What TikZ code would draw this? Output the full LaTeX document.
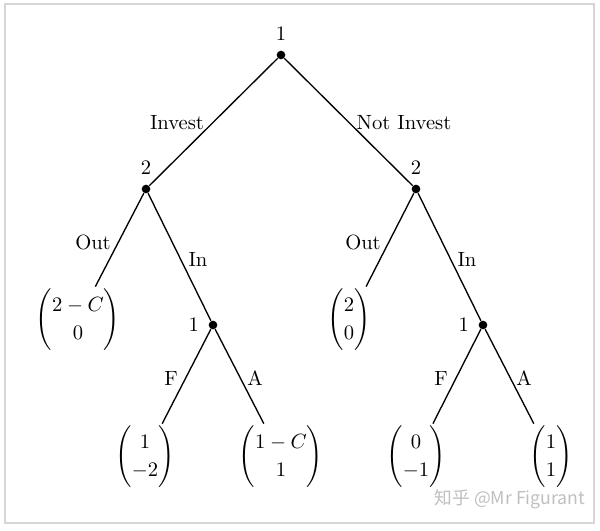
\documentclass[tikz,border=0pt]{standalone}
\usepackage{amsmath}
\usepackage{fontspec}
\newfontfamily\cjkwm{Noto Sans CJK SC}
\newcommand{\payoff}[2]{{\renewcommand{\arraystretch}{1.15}$\begin{pmatrix}#1\\#2\end{pmatrix}$}}
\begin{document}
\begin{tikzpicture}[x=0.4854pt,y=-0.4854pt,
  dotnode/.style={circle,fill=black,inner sep=0pt,minimum size=4.2pt},
  leafnode/.style={inner sep=1pt},
  edgelbl/.style={inner sep=0pt},
  branch/.style={line width=0.65pt}]
\useasboundingbox (0,0) rectangle (600,530);
\draw[black!16,line width=1.2pt] (5,4) rectangle (594,523);
% decision nodes
\node[dotnode,label={[label distance=1pt]above:1}] (r) at (281,55) {};
\node[dotnode,label={[label distance=1pt]above:2}] (l) at (146,189) {};
\node[dotnode,label={[label distance=1pt]above:2}] (n) at (416,189) {};
\node[dotnode,label={[label distance=1pt]left:1}] (li) at (213,325) {};
\node[dotnode,label={[label distance=1pt]left:1}] (ni) at (483,325) {};
% leaves
\node[leafnode] (lo) at (78,320) {\payoff{2-C}{0}};
\node[leafnode] (no) at (349,320) {\payoff{2}{0}};
\node[leafnode] (lf) at (145,457) {\payoff{1}{-2}};
\node[leafnode] (la) at (281,457) {\payoff{1-C}{1}};
\node[leafnode] (nf) at (416,457) {\payoff{0}{-1}};
\node[leafnode] (na) at (551,457) {\payoff{1}{1}};
% branches
\draw[branch] (r) -- (l);
\draw[branch] (r) -- (n);
\draw[branch] (l) -- (lo);
\draw[branch] (l) -- (li);
\draw[branch] (n) -- (no);
\draw[branch] (n) -- (ni);
\draw[branch] (li) -- (lf);
\draw[branch] (li) -- (la);
\draw[branch] (ni) -- (nf);
\draw[branch] (ni) -- (na);
% branch labels
\node[edgelbl] (t1) at (177,123) {Invest};
\node[edgelbl] (t2) at (404,123) {Not Invest};
\node[edgelbl] (t3) at (93,242) {Out};
\node[edgelbl] (t4) at (198,259) {In};
\node[edgelbl] (t5) at (363,242) {Out};
\node[edgelbl] (t6) at (467,259) {In};
\node[edgelbl] (t7) at (171,378) {F};
\node[edgelbl] (t8) at (255,378) {A};
\node[edgelbl] (t9) at (441,378) {F};
\node[edgelbl] (t10) at (524,378) {A};
% watermark
\node[inner sep=0pt,text=black!25] (wm) at (510,499) {\cjkwm\fontsize{8.6}{10}\selectfont 知乎 @Mr Figurant};
\end{tikzpicture}
\end{document}
